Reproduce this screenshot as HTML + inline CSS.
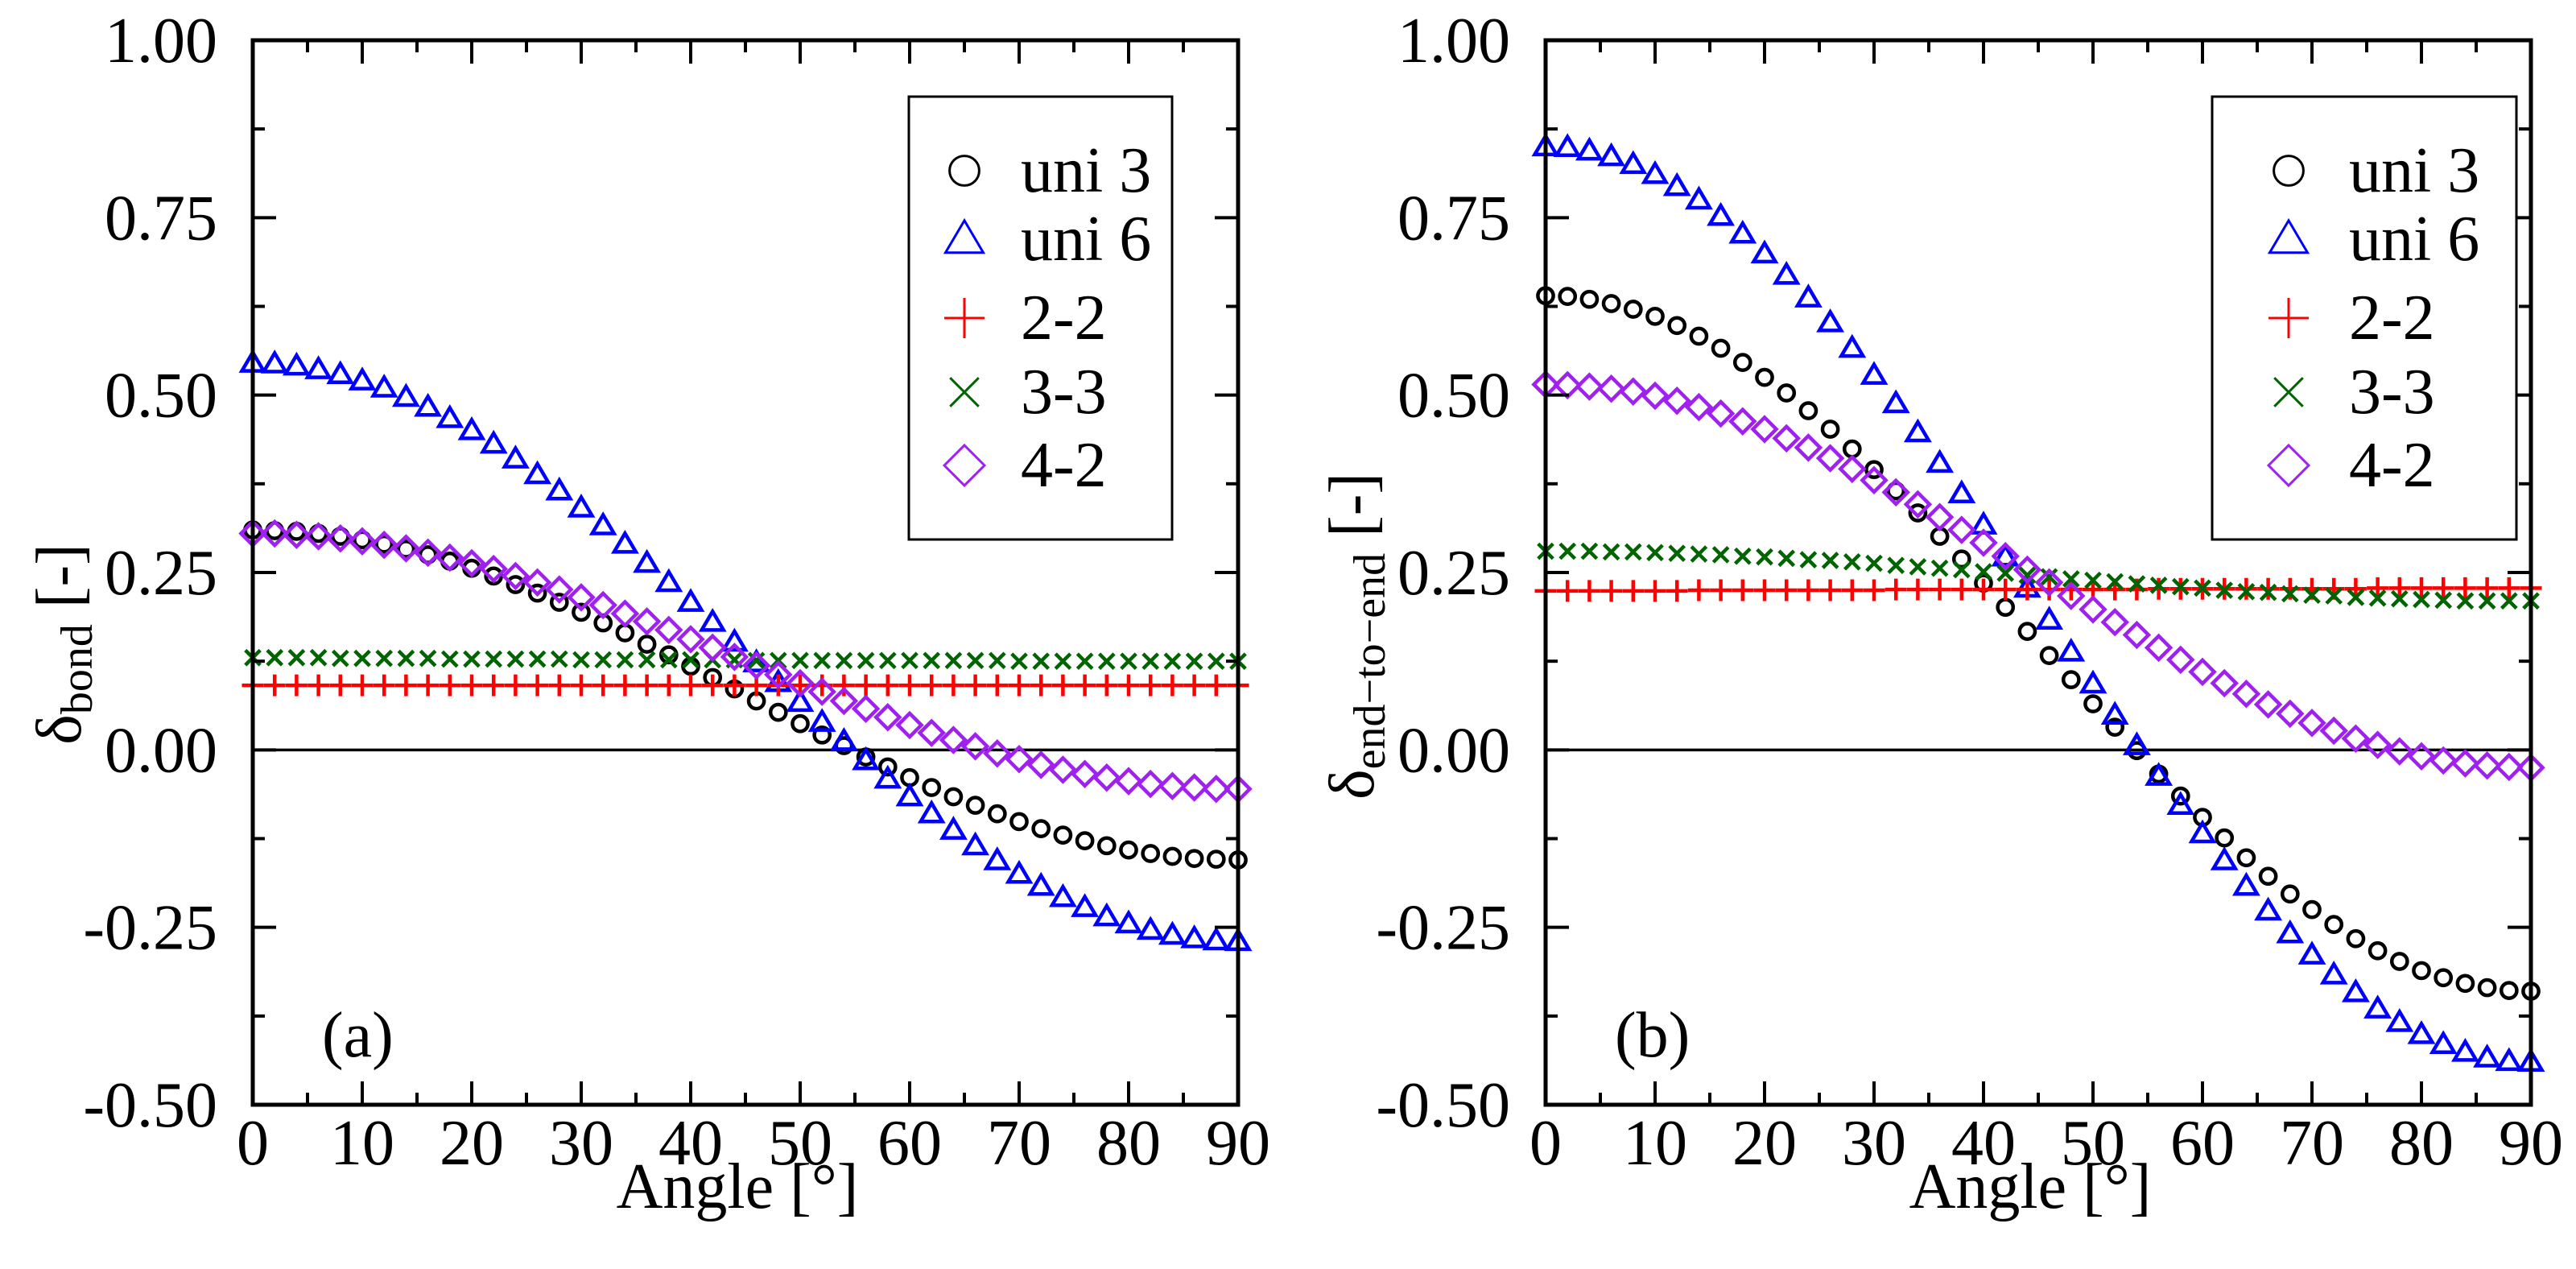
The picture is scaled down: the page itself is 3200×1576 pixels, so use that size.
<!DOCTYPE html>
<html><head><meta charset="utf-8"><style>
html,body{margin:0;padding:0;background:#fff;}
svg{display:block;}
svg text{font-family:"Liberation Serif","DejaVu Serif",serif;}
</style></head><body>
<svg id="chart" width="3200" height="1576" viewBox="0 0 3200 1576" xmlns="http://www.w3.org/2000/svg" font-family="Liberation Serif, serif"></svg>
<script>
const angles = [0,2,4,6,8,10,12,14,16,18,20,22,24,26,28,30,32,34,36,38,40,42,44,46,48,50,52,54,56,58,60,62,64,66,68,70,72,74,76,78,80,82,84,86,88,90];
const xTicks = [0,10,20,30,40,50,60,70,80,90];
const yTicks = [1.00,0.75,0.50,0.25,0.00,-0.25,-0.50];
const yTickLabels = ["1.00","0.75","0.50","0.25","0.00","-0.25","-0.50"];
const seriesNames = ["uni 3","uni 6","2-2","3-3","4-2"];

const aUni3 = [.310,.309,.308,.305,.301,.296,.290,.283,.275,.266,.256,.245,.233,.221,.208,.194,.179,.165,.149,.134,.118,.102,.086,.069,.053,.037,.021,.006,-.010,-.024,-.039,-.053,-.066,-.078,-.090,-.101,-.111,-.120,-.128,-.135,-.141,-.146,-.150,-.153,-.154,-.155];
const aUni6 = [.545,.544,.541,.536,.529,.520,.510,.497,.483,.467,.450,.431,.410,.388,.365,.341,.316,.290,.263,.236,.208,.180,.152,.123,.095,.067,.039,.012,-.015,-.041,-.066,-.090,-.113,-.135,-.156,-.175,-.192,-.208,-.222,-.235,-.245,-.254,-.261,-.266,-.269,-.270];
const a22 = [.091,.091,.091,.091,.091,.091,.091,.091,.091,.091,.091,.091,.091,.091,.091,.091,.091,.091,.091,.091,.091,.091,.091,.091,.091,.091,.091,.091,.091,.091,.091,.091,.091,.091,.091,.091,.091,.091,.091,.091,.091,.091,.091,.091,.091,.091];
const a33 = [.130,.130,.130,.130,.129,.129,.129,.129,.129,.128,.128,.128,.128,.128,.128,.127,.127,.127,.127,.127,.127,.127,.127,.126,.126,.126,.126,.126,.126,.126,.126,.126,.126,.126,.126,.125,.125,.125,.125,.125,.125,.125,.125,.125,.125,.125];
const a42 = [.305,.305,.303,.301,.298,.294,.289,.284,.278,.271,.263,.255,.245,.236,.226,.215,.204,.192,.181,.169,.156,.144,.131,.119,.106,.094,.082,.069,.058,.046,.035,.024,.014,.005,-.005,-.013,-.021,-.028,-.034,-.039,-.044,-.048,-.051,-.053,-.055,-.055];

const bUni3 = [.640,.639,.635,.629,.621,.611,.598,.583,.566,.546,.525,.503,.478,.452,.424,.395,.365,.334,.301,.269,.235,.201,.167,.133,.099,.065,.032,-.001,-.034,-.065,-.095,-.124,-.152,-.178,-.203,-.225,-.246,-.266,-.283,-.298,-.311,-.321,-.329,-.335,-.339,-.340];
const bUni6 = [.850,.849,.844,.836,.825,.811,.794,.775,.752,.727,.699,.669,.637,.602,.566,.528,.488,.447,.404,.361,.317,.272,.228,.183,.138,.093,.049,.006,-.037,-.078,-.118,-.156,-.192,-.227,-.259,-.289,-.317,-.342,-.365,-.384,-.401,-.415,-.426,-.434,-.439,-.440];
const b22 = [.224,.224,.224,.224,.224,.224,.224,.225,.225,.225,.225,.225,.225,.225,.225,.225,.226,.226,.226,.226,.226,.226,.226,.226,.226,.226,.226,.226,.227,.227,.227,.227,.227,.227,.227,.227,.227,.227,.228,.228,.228,.228,.228,.228,.228,.228];
const b33 = [.280,.280,.280,.279,.279,.278,.277,.276,.275,.273,.272,.270,.268,.267,.265,.263,.260,.258,.256,.254,.251,.249,.246,.244,.241,.239,.237,.234,.232,.230,.228,.225,.223,.222,.220,.218,.217,.215,.214,.213,.212,.211,.210,.210,.210,.210];
const b42 = [.515,.514,.512,.509,.505,.499,.492,.483,.474,.463,.452,.439,.426,.411,.396,.380,.363,.346,.328,.310,.292,.273,.254,.236,.217,.198,.180,.162,.144,.127,.110,.094,.079,.064,.051,.038,.027,.016,.007,-.002,-.009,-.015,-.019,-.022,-.024,-.025];

const NS = "http://www.w3.org/2000/svg";
const svg = document.getElementById("chart");
const COLORS = ["#000000","#0000ff","#ff0000","#006400","#a020f0"];
const MARKS = ["circle","triangle","plus","cross","diamond"];
const FONT = '"Liberation Serif", "DejaVu Serif", serif';

function mk(tag, attrs, parent){
  const e = document.createElementNS(NS, tag);
  for (const k in attrs) e.setAttribute(k, attrs[k]);
  if (tag === "text") e.style.fontFamily = FONT;
  (parent||svg).appendChild(e);
  return e;
}

const Y0 = 50, Y1 = 1372;
function yScale(v){ return Y0 + (1.0 - v) / 1.5 * (Y1 - Y0); }

function drawMarker(g, type, cx, cy, s, color, sw){
  let e;
  if (type === "circle") {
    e = mk("circle",{cx:cx,cy:cy,r:s*0.4,fill:"none",stroke:color,"stroke-width":sw},g);
  } else if (type === "triangle") {
    const h = s*0.85, w = s;
    e = mk("polygon",{points:`${cx},${cy-h*0.58} ${cx-w/2},${cy+h*0.42} ${cx+w/2},${cy+h*0.42}`,fill:"none",stroke:color,"stroke-width":sw,"stroke-linejoin":"miter"},g);
  } else if (type === "plus") {
    e = mk("path",{d:`M${cx-s/2},${cy}H${cx+s/2}M${cx},${cy-s/2}V${cy+s/2}`,fill:"none",stroke:color,"stroke-width":sw},g);
  } else if (type === "cross") {
    const d = s*0.37;
    e = mk("path",{d:`M${cx-d},${cy-d}L${cx+d},${cy+d}M${cx-d},${cy+d}L${cx+d},${cy-d}`,fill:"none",stroke:color,"stroke-width":sw},g);
  } else {
    const d = s*0.52;
    e = mk("polygon",{points:`${cx},${cy-d} ${cx+d},${cy} ${cx},${cy+d} ${cx-d},${cy}`,fill:"none",stroke:color,"stroke-width":sw},g);
  }
  return e;
}

function panel(id, X0, X1, data, yTitleMain, yTitleSub, panelLabel, legend){
  function xScale(v){ return X0 + v/90*(X1-X0); }
  const g = mk("g",{});
  
  

  const zl = mk("line",{x1:X0,x2:X1,y1:yScale(0),y2:yScale(0),stroke:"#000","stroke-width":3.5},g);
  
  

  data.forEach((vals, si) => {
    const sg = mk("g",{},g);
    
    
    vals.forEach((v, i) => {
      const m = drawMarker(sg, MARKS[si], xScale(angles[i]), yScale(v), [24,27,27,25,28][si], COLORS[si], 4.5);
      
      
    });
  });

  const fr = mk("rect",{x:X0,y:Y0,width:X1-X0,height:Y1-Y0,fill:"none",stroke:"#000","stroke-width":5},g);
  
  

  for (let v=0; v<=90; v+=5){
    const x = xScale(v), L = (v%10===0)?29:15;
    mk("line",{x1:x,x2:x,y1:Y1,y2:Y1-L,stroke:"#000","stroke-width":4},g);
    mk("line",{x1:x,x2:x,y1:Y0,y2:Y0+L,stroke:"#000","stroke-width":4},g);
  }
  xTicks.forEach(v => {
    const t = mk("text",{x:xScale(v),y:1446,"font-size":80,"text-anchor":"middle"},g);
    t.textContent = String(v);
    
    
  });
  for (let k=0;k<=12;k++){
    const v = 1.0 - k*0.125, y = yScale(v), L = (k%2===0)?29:15;
    mk("line",{x1:X0,x2:X0+L,y1:y,y2:y,stroke:"#000","stroke-width":4},g);
    mk("line",{x1:X1,x2:X1-L,y1:y,y2:y,stroke:"#000","stroke-width":4},g);
  }
  yTicks.forEach((v,i) => {
    const t = mk("text",{x:X0-44,y:yScale(v)+27,"font-size":80,"text-anchor":"end"},g);
    t.textContent = yTickLabels[i];
    
    
  });

  const xt = mk("text",{x:(X0+X1)/2-10,y:1500,"font-size":80,"text-anchor":"middle"},g);
  xt.textContent = "Angle [°]";
  
  

  const yt = mk("text",{x:0,y:0,"font-size":80,"text-anchor":"middle",transform:`translate(${yTitleMain.x},${yTitleMain.y}) rotate(-90)`},g);
  
  
  const t1 = mk("tspan",{},yt); t1.textContent = "δ";
  const t2 = mk("tspan",{"font-size":56,dy:14},yt); t2.textContent = yTitleSub;
  const t3 = mk("tspan",{dy:-14},yt); t3.textContent = " [-]";

  const pl = mk("text",{x:panelLabel.x,y:1312,"font-size":80},g);
  pl.textContent = panelLabel.t;
  
  

  const lg = mk("g",{},g);
  
  
  mk("rect",{x:legend.x,y:120,width:legend.w,height:550,fill:"#fff",stroke:"#000","stroke-width":3},lg);
  const rows = [212,297,395,487,578];
  seriesNames.forEach((n,i) => {
    const eg = mk("g",{},lg);
    
    
    drawMarker(eg, MARKS[i], legend.sx, rows[i], [46,47,50,48,48][i], COLORS[i], 3);
    const t = mk("text",{x:legend.tx,y:rows[i]+26,"font-size":80},eg);
    t.textContent = n;
  });
}

panel("a", 314, 1538, [aUni3,aUni6,a22,a33,a42], {x:100,y:800}, "bond", {x:400,t:"(a)"}, {x:1129,w:327,sx:1198,tx:1268});
panel("b", 1920, 3144, [bUni3,bUni6,b22,b33,b42], {x:1706,y:790}, "end−to−end", {x:2006,t:"(b)"}, {x:2748,w:378,sx:2843,tx:2918});
</script>
</body></html>
